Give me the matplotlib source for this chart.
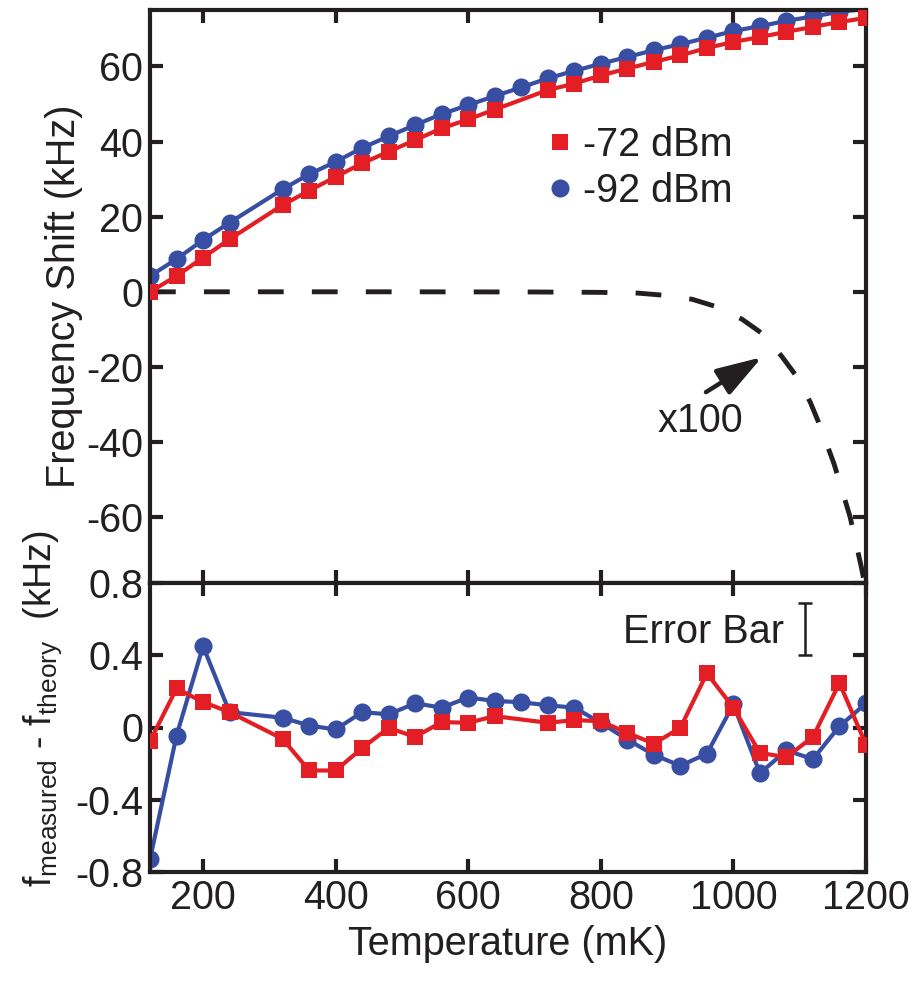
import matplotlib
matplotlib.use("Agg")
import matplotlib.pyplot as plt
from matplotlib.lines import Line2D

plt.rcParams['font.family'] = ['Liberation Sans', 'DejaVu Sans']
plt.rcParams['mathtext.fontset'] = 'custom'
plt.rcParams['mathtext.rm'] = 'Liberation Sans'
plt.rcParams['mathtext.it'] = 'Liberation Sans'
plt.rcParams['axes.unicode_minus'] = False

# ---------------- data ----------------
T_blue = [120, 160, 200, 240, 320, 360, 400, 440, 480, 520, 560, 600, 640, 680,
          720, 760, 800, 840, 880, 920, 960, 1000, 1040, 1080, 1120, 1160, 1200]
shift_blue = [4.2, 8.7, 13.8, 18.4, 27.3, 31.3, 34.6, 38.3, 41.4, 44.4, 47.3, 49.7, 52.1, 54.4,
              56.8, 58.8, 60.7, 62.5, 64.3, 65.9, 67.6, 69.4, 70.7, 72.1, 73.3, 74.5, 75.3]
resid_blue = [-0.73, -0.045, 0.45, 0.085, 0.054, 0.011, -0.011, 0.085, 0.073, 0.134, 0.11, 0.166, 0.147, 0.14,
              0.123, 0.11, 0.026, -0.067, -0.151, -0.212, -0.145, 0.128, -0.253, -0.127, -0.175, 0.007, 0.134]

T_red = [120, 160, 200, 240, 320, 360, 400, 440, 480, 520, 560, 600, 640,
         720, 760, 800, 840, 880, 920, 960, 1000, 1040, 1080, 1120, 1160, 1200]
shift_red = [0.0, 4.2, 9.1, 14.0, 23.1, 26.9, 30.6, 34.2, 37.3, 40.4, 43.5, 45.9, 48.5,
             53.7, 55.4, 57.6, 59.4, 61.2, 62.9, 64.9, 66.5, 67.8, 69.2, 70.5, 71.8, 72.9]
resid_red = [-0.076, 0.216, 0.141, 0.085, -0.063, -0.238, -0.238, -0.114, -0.002, -0.052, 0.03, 0.026, 0.063,
             0.026, 0.041, 0.035, -0.03, -0.089, -0.002, 0.30, 0.11, -0.141, -0.164, -0.052, 0.246, -0.095]

# theory curve (x100)
T_theory = [120, 500, 700, 800, 856, 894, 938, 975, 1013, 1045, 1073, 1096, 1116, 1131,
            1152, 1176, 1193, 1200]
shift_theory = [0.0, 0.0, -0.05, -0.15, -0.35, -0.9, -2.0, -4.0, -7.3, -11.3, -17.2, -22.7, -29.4, -35.8,
                -45.9, -59.9, -73.3, -79.5]

labels = ['-72 dBm', '-92 dBm']
xticks = [200, 400, 600, 800, 1000, 1200]
yticks_top = [-60, -40, -20, 0, 20, 40, 60]
yticks_bot = [-0.8, -0.4, 0, 0.4, 0.8]
yticklabels_bot = ['-0.8', '-0.4', '0', '0.4', '0.8']

# error bar indicator
err_x, err_y, err_half = 1108, 0.545, 0.144

RED = '#E31E24'
BLUE = '#374EA3'
INK = '#231F20'
FS = 28.5

fig = plt.figure(figsize=(9.19, 9.83), dpi=100)
ax1 = fig.add_axes([150/919, 400/983, 716/919, 573/983])
ax2 = fig.add_axes([150/919, 111/983, 716/919, 289/983])

for ax in (ax1, ax2):
    for s in ax.spines.values():
        s.set_linewidth(3)
        s.set_color(INK)
    ax.tick_params(direction='in', length=9.5, width=3, color=INK, labelsize=FS,
                   labelcolor=INK, top=True, right=True, pad=5)
    ax.set_xlim(120, 1200)
    ax.set_xticks(xticks)

# top panel
ax1.plot(T_theory, shift_theory, color=INK, lw=3.5, linestyle=(0, (5.3, 5.8)), zorder=1)
ax1.plot(T_blue, shift_blue, color=BLUE, lw=3, marker='o', markersize=13, mew=0, zorder=2)
ax1.plot(T_red, shift_red, color=RED, lw=3, marker='s', markersize=12, mew=0, zorder=3)
ax1.set_ylim(-77.5, 75)
ax1.set_yticks(yticks_top)
ax1.set_yticklabels([str(v) for v in yticks_top])
ax1.tick_params(labelbottom=False)
ax1.set_ylabel('Frequency Shift (kHz)', fontsize=FS, color=INK)
ax1.yaxis.set_label_coords(-0.093, 0.5)

h_red = Line2D([], [], color=RED, marker='s', linestyle='none', markersize=11.5, mew=0)
h_blue = Line2D([], [], color=BLUE, marker='o', linestyle='none', markersize=13, mew=0)
ax1.legend([h_red, h_blue], labels, loc='center left',
           bbox_to_anchor=(549/919, (983-168)/983), bbox_transform=fig.transFigure,
           frameon=False, handlelength=0.55, handletextpad=0.3, borderpad=0,
           borderaxespad=0, labelspacing=0.2, fontsize=FS, labelcolor=INK)

ax1.annotate('', xy=(1043, -17.4), xytext=(958.6, -26.7),
             arrowprops=dict(arrowstyle='-|>,head_length=1.4,head_width=0.45',
                             mutation_scale=20, lw=3.2, color=INK,
                             shrinkA=0, shrinkB=0))
ax1.text(886, -37.3, 'x100', ha='left', va='baseline', fontsize=FS, color=INK)

# bottom panel
ax2.plot(T_blue, resid_blue, color=BLUE, lw=3, marker='o', markersize=13, mew=0, zorder=2)
ax2.plot(T_red, resid_red, color=RED, lw=3, marker='s', markersize=12, mew=0, zorder=3)
ax2.set_ylim(-0.8, 0.8)
ax2.set_yticks(yticks_bot)
ax2.set_yticklabels(yticklabels_bot)
ax2.set_xticklabels([str(v) for v in xticks])
ax2.set_xlabel('Temperature (mK)', fontsize=FS, color=INK, labelpad=6)
ax2.set_ylabel(r'f$_{\mathrm{measured}}$ - f$_{\mathrm{theory}}$  (kHz)', fontsize=27, color=INK)
ax2.yaxis.set_label_coords(-0.12, 0.565)
ax2.errorbar([err_x], [err_y], yerr=[err_half], color=INK, elinewidth=1.8,
             capsize=5, capthick=1.8, fmt='none')
ax2.text(833, 0.468, 'Error Bar', ha='left', va='baseline', fontsize=FS, color=INK)

for ax in (ax1, ax2):
    for lab in ax.get_xticklabels() + ax.get_yticklabels():
        lab.set_clip_on(False)

fig.savefig('out.png', dpi=100)
